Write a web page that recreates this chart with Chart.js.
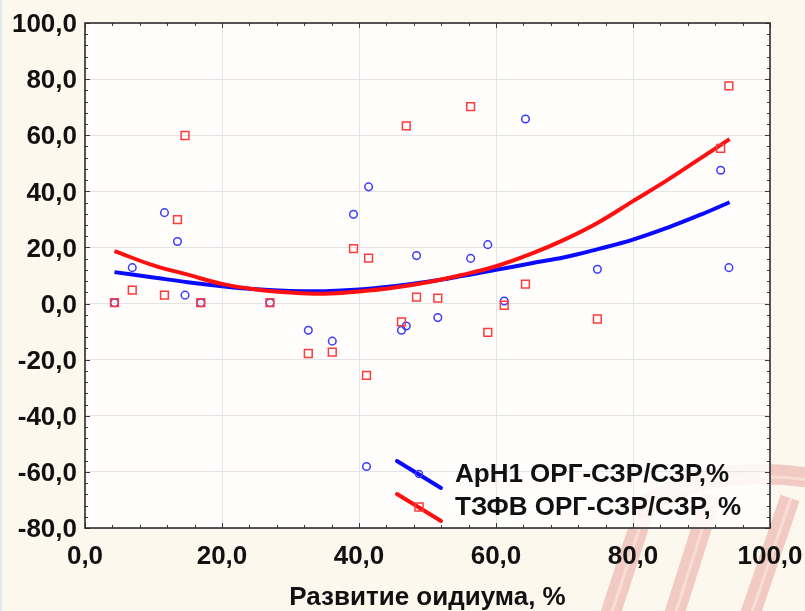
<!DOCTYPE html>
<html><head><meta charset="utf-8">
<script src="https://cdn.jsdelivr.net/npm/chart.js@4"></script>
<style>html,body{margin:0;padding:0;background:#fcf8ee;overflow:hidden}</style>
</head><body>
<canvas id="c" width="805" height="611"></canvas>
<script>
// ---- data ----
const pointX   = [4.3, 6.9, 11.6, 13.5, 14.6, 16.9, 27.0, 32.6, 36.1, 39.2, 41.1, 41.4, 46.2, 46.9, 48.4, 51.5, 56.3, 58.8, 61.2, 64.3, 74.8, 92.8, 94.0];
const aph1Vals = [0.3, 12.8, 32.4, 22.1, 3.0, 0.3, 0.3, -9.5, -13.4, 31.8, -58.1, 41.6, -9.5, -8.0, 17.1, -5.0, 16.1, 21.0, 0.9, 65.8, 12.2, 47.5, 12.8];
const tzfvVals = [0.3, 4.8, 3.0, 29.9, 59.9, 0.3, 0.3, -17.8, -17.3, 19.6, -25.6, 16.2, -6.5, 63.3, 2.3, 1.9, 70.2, -10.3, -0.6, 6.9, -5.5, 55.3, 77.6];
const fitX     = [4.3, 10, 15, 20, 25, 30, 35, 40, 45, 50, 55, 60, 65, 70, 75, 80, 85, 90, 94.1];
const aph1Fit  = [11.2, 9.3, 7.6, 6.2, 5.1, 4.5, 4.4, 5.0, 6.2, 7.8, 9.8, 12.0, 14.3, 16.5, 19.5, 22.8, 27.0, 31.8, 36.1];
const tzfvFit  = [18.7, 13.6, 10.3, 7.0, 5.0, 3.9, 3.5, 4.3, 5.6, 7.6, 10.2, 13.3, 17.6, 22.8, 29.0, 36.5, 44.0, 52.0, 58.6];
const seriesNames = ['АрН1 ОРГ-СЗР/СЗР,%', 'ТЗФВ ОРГ-СЗР/СЗР, %'];
const xTitle = 'Развитие оидиума, %';
const xMin = 0, xMax = 100, xStep = 20;
const yMin = -80, yMax = 100, yStep = 20;
const minorStep = 4;

const BLUE = '#0a0aff', RED = '#ff1010';
const BLUE_PT = '#3b3bff', RED_PT = '#ff3b3b';
const FONT = '"Liberation Sans", Arial, sans-serif';

const toXY = (xs, ys) => xs.map((x, i) => ({x, y: ys[i]}));
const fmt = v => Number(v).toFixed(1).replace('.', ',');

function drawWatermark(ctx) {
  ctx.save();
  ctx.lineCap = 'butt';
  const stems = [[610, 615, 646, 505], [674, 615, 712, 495], [750, 615, 790, 498]];
  ctx.strokeStyle = 'rgba(214,95,95,0.30)';
  ctx.lineWidth = 20;
  stems.forEach(s => { ctx.beginPath(); ctx.moveTo(s[0], s[1]); ctx.lineTo(s[2], s[3]); ctx.stroke(); });
  ctx.beginPath(); ctx.moveTo(636, 512); ctx.quadraticCurveTo(705, 462, 810, 478); ctx.stroke();
  ctx.strokeStyle = 'rgba(255,240,235,0.5)';
  ctx.lineWidth = 3;
  stems.forEach(s => { ctx.beginPath(); ctx.moveTo(s[0] + 1, s[1]); ctx.lineTo(s[2] + 1, s[3]); ctx.stroke(); });
  ctx.beginPath(); ctx.moveTo(640, 512); ctx.quadraticCurveTo(707, 466, 810, 480); ctx.stroke();
  ctx.restore();
}

const bgPlugin = {
  id: 'bg',
  beforeDraw(chart) {
    const {ctx, chartArea: a} = chart;
    ctx.save();
    ctx.fillStyle = '#fcf8ee';
    ctx.fillRect(0, 0, chart.width, chart.height);
    ctx.fillStyle = '#dfe6f2';
    ctx.fillRect(0, 0, 2, chart.height);
    drawWatermark(ctx);
    ctx.fillStyle = 'rgba(255,255,255,0.82)';
    ctx.fillRect(a.left, a.top, a.right - a.left, a.bottom - a.top);
    ctx.restore();
  }
};

const framePlugin = {
  id: 'frame',
  afterDatasetsDraw(chart) {
    const {ctx, chartArea: a, scales} = chart;
    const xs = scales.x, ys = scales.y;
    ctx.save();
    ctx.strokeStyle = '#3a3a3a';
    ctx.lineWidth = 1;
    ctx.beginPath();
    for (let v = xMin; v <= xMax + 1e-9; v += minorStep) {
      const p = Math.round(xs.getPixelForValue(v)) + 0.5;
      const len = (Math.abs(v % xStep) < 1e-9) ? 5 : 3;
      ctx.moveTo(p, a.top); ctx.lineTo(p, a.top + len);
      ctx.moveTo(p, a.bottom); ctx.lineTo(p, a.bottom - len);
    }
    for (let v = yMin; v <= yMax + 1e-9; v += minorStep) {
      const p = Math.round(ys.getPixelForValue(v)) + 0.5;
      const len = (Math.abs((v - yMin) % yStep) < 1e-9) ? 5 : 3;
      ctx.moveTo(a.left, p); ctx.lineTo(a.left + len, p);
      ctx.moveTo(a.right, p); ctx.lineTo(a.right - len, p);
    }
    ctx.stroke();
    ctx.lineWidth = 1.6;
    ctx.strokeStyle = '#2e2e2e';
    ctx.strokeRect(a.left, a.top, a.right - a.left, a.bottom - a.top);
    ctx.restore();
  }
};

const legendPlugin = {
  id: 'diagLegend',
  afterDatasetsDraw(chart) {
    const {ctx, chartArea: a} = chart;
    const x0 = a.left + 312, x1 = a.left + 356;
    const rows = [
      {y: a.top + 451, color: BLUE, pt: BLUE_PT, shape: 'circle', text: seriesNames[0]},
      {y: a.top + 484, color: RED, pt: RED_PT, shape: 'square', text: seriesNames[1]}
    ];
    ctx.save();
    rows.forEach(r => {
      ctx.strokeStyle = r.color;
      ctx.lineWidth = 4;
      ctx.lineCap = 'round';
      ctx.beginPath();
      ctx.moveTo(x0, r.y - 13);
      ctx.lineTo(x1, r.y + 14);
      ctx.stroke();
      ctx.lineWidth = 1.5;
      ctx.strokeStyle = r.pt;
      const mx = (x0 + x1) / 2, my = r.y;
      ctx.beginPath();
      if (r.shape === 'circle') ctx.arc(mx, my, 3.5, 0, Math.PI * 2);
      else ctx.rect(mx - 4, my - 4, 8, 8);
      ctx.stroke();
      ctx.fillStyle = '#111';
      ctx.font = 'bold 26px ' + FONT;
      ctx.textBaseline = 'middle';
      ctx.textAlign = 'left';
      ctx.fillText(r.text, a.left + 370, r.y + 1);
    });
    ctx.restore();
  }
};

new Chart(document.getElementById('c'), {
  type: 'scatter',
  data: {
    datasets: [
      {label: seriesNames[1] + ' fit', data: toXY(fitX, tzfvFit), showLine: true, borderColor: RED, borderWidth: 4, pointRadius: 0, tension: 0.4, fill: false, order: 3},
      {label: seriesNames[0] + ' fit', data: toXY(fitX, aph1Fit), showLine: true, borderColor: BLUE, borderWidth: 4, pointRadius: 0, tension: 0.4, fill: false, order: 4},
      {label: seriesNames[0], data: toXY(pointX, aph1Vals), pointStyle: 'circle', pointRadius: 3.8, borderColor: BLUE_PT, backgroundColor: 'rgba(0,0,0,0)', pointBorderWidth: 1.5, order: 2},
      {label: seriesNames[1], data: toXY(pointX, tzfvVals), pointStyle: 'rect', pointRadius: 5.5, borderColor: RED_PT, backgroundColor: 'rgba(0,0,0,0)', pointBorderWidth: 1.5, order: 1}
    ]
  },
  options: {
    responsive: false,
    animation: false,
    devicePixelRatio: 1,
    layout: {padding: {left: 0, right: 35, top: 23, bottom: 0}},
    plugins: {legend: {display: false}, tooltip: {enabled: false}},
    scales: {
      x: {
        type: 'linear', min: xMin, max: xMax,
        border: {display: false},
        grid: {color: '#e4e4e4', lineWidth: 1, drawTicks: false},
        ticks: {stepSize: xStep, padding: 13, color: '#111', font: {family: FONT, size: 26, weight: 'bold'}, callback: fmt, maxRotation: 0},
        title: {display: true, text: xTitle, color: '#111', font: {family: FONT, size: 26, weight: 'bold', lineHeight: 1.0}, padding: {top: 0, bottom: 0}},
        afterFit(s) { s.height = 83; s.paddingLeft = 0; s.paddingRight = 0; }
      },
      y: {
        type: 'linear', min: yMin, max: yMax,
        border: {display: false},
        grid: {color: '#e4e4e4', lineWidth: 1, drawTicks: false},
        ticks: {stepSize: yStep, padding: 8, labelOffset: 2, color: '#111', font: {family: FONT, size: 26, weight: 'bold'}, callback: fmt},
        afterFit(s) { s.width = 85; s.paddingTop = 0; s.paddingBottom = 0; }
      }
    }
  },
  plugins: [bgPlugin, framePlugin, legendPlugin]
});
</script>
</body></html>
